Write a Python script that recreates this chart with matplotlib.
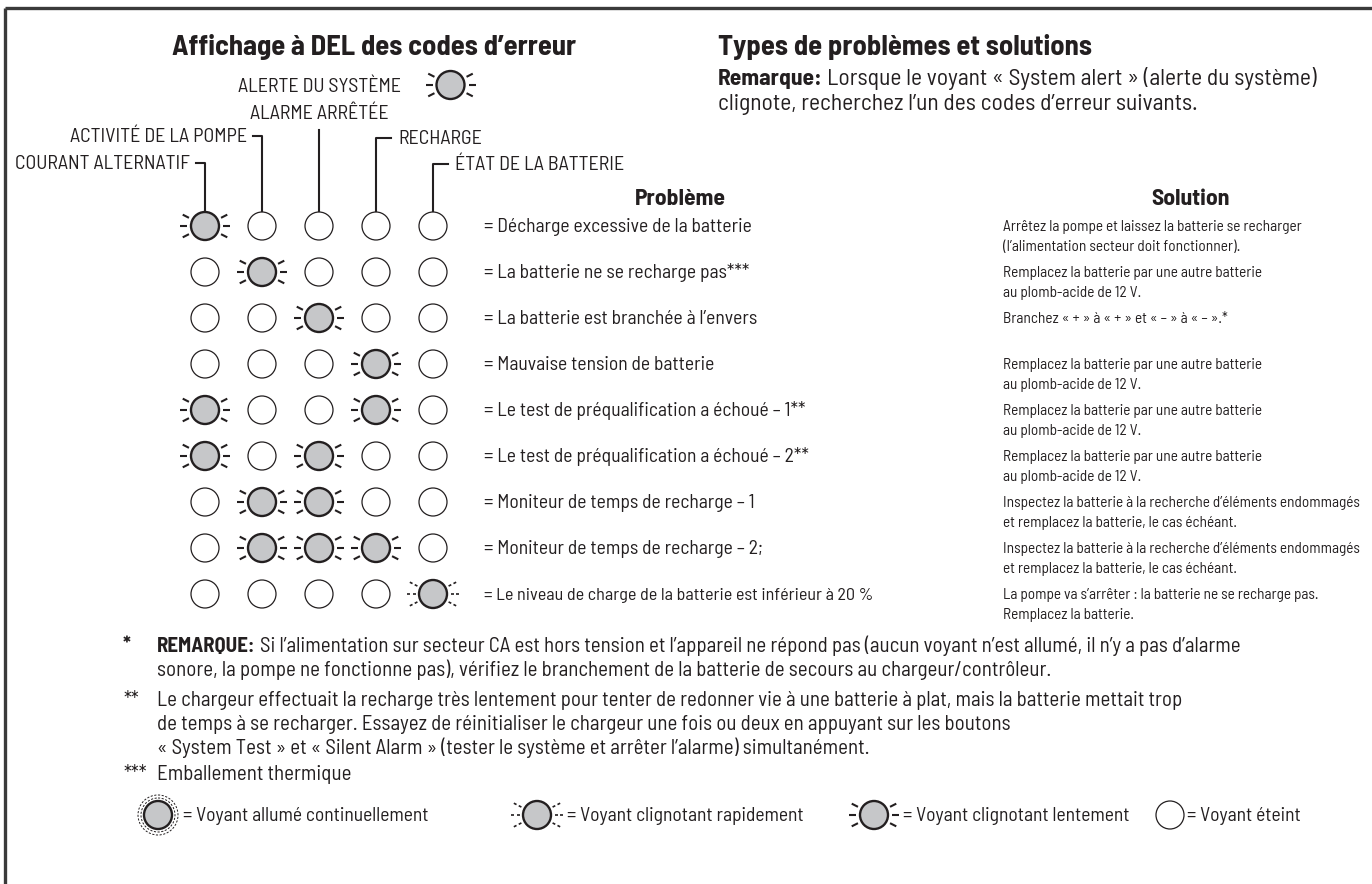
import matplotlib
matplotlib.use("Agg")
import matplotlib.pyplot as plt
from matplotlib.patches import Circle
from matplotlib import font_manager as fm
import numpy as np

_names = {f.name for f in fm.fontManager.ttflist}
FONT = 'DejaVu Sans'
for cand in ['Barlow Semi Condensed', 'Barlow Condensed', 'Roboto Condensed',
             'Liberation Sans Narrow', 'Arial Narrow', 'Open Sans Condensed', 'Roboto']:
    if cand in _names:
        FONT = cand
        break
plt.rcParams['font.family'] = [FONT, 'DejaVu Sans']

INK = '#231f20'
LED_FILL = '#c6c7c9'

# ---------------- data ----------------
title_leds = "Affichage à DEL des codes d’erreur"
title_types = "Types de problèmes et solutions"
remark_head = "Remarque:"
remark_lines = ["Lorsque le voyant « System alert » (alerte du système)",
                "clignote, recherchez l’un des codes d’erreur suivants."]
system_alert_label = "ALERTE DU SYSTÈME"
led_labels = ["COURANT ALTERNATIF", "ACTIVITÉ DE LA POMPE", "ALARME ARRÊTÉE",
              "RECHARGE", "ÉTAT DE LA BATTERIE"]
header_problem = "Problème"
header_solution = "Solution"

# 0 = off, 1 = slow blink, 2 = fast blink, 3 = steady
led_states = [
    [1, 0, 0, 0, 0],
    [0, 1, 0, 0, 0],
    [0, 0, 1, 0, 0],
    [0, 0, 0, 1, 0],
    [1, 0, 0, 1, 0],
    [1, 0, 1, 0, 0],
    [0, 1, 1, 0, 0],
    [0, 1, 1, 1, 0],
    [0, 0, 0, 0, 2],
]
problems = [
    "= Décharge excessive de la batterie",
    "= La batterie ne se recharge pas***",
    "= La batterie est branchée à l’envers",
    "= Mauvaise tension de batterie",
    "= Le test de préqualification a échoué – 1**",
    "= Le test de préqualification a échoué – 2**",
    "= Moniteur de temps de recharge – 1",
    "= Moniteur de temps de recharge – 2;",
    "= Le niveau de charge de la batterie est inférieur à 20 %",
]
solutions = [
    ["Arrêtez la pompe et laissez la batterie se recharger",
     "(l’alimentation secteur doit fonctionner)."],
    ["Remplacez la batterie par une autre batterie", "au plomb-acide de 12 V."],
    ["Branchez « + » à « + » et « – » à « – ».*"],
    ["Remplacez la batterie par une autre batterie", "au plomb-acide de 12 V."],
    ["Remplacez la batterie par une autre batterie", "au plomb-acide de 12 V."],
    ["Remplacez la batterie par une autre batterie", "au plomb-acide de 12 V."],
    ["Inspectez la batterie à la recherche d’éléments endommagés",
     "et remplacez la batterie, le cas échéant."],
    ["Inspectez la batterie à la recherche d’éléments endommagés",
     "et remplacez la batterie, le cas échéant."],
    ["La pompe va s’arrêter : la batterie ne se recharge pas.",
     "Remplacez la batterie."],
]
footnote_marks = ["*", "**", "***"]
footnote_heads = ["REMARQUE:", "", ""]
footnote_lines = [
    ["Si l’alimentation sur secteur CA est hors tension et l’appareil ne répond pas (aucun voyant n’est allumé, il n’y a pas d’alarme",
     "sonore, la pompe ne fonctionne pas), vérifiez le branchement de la batterie de secours au chargeur/contrôleur."],
    ["Le chargeur effectuait la recharge très lentement pour tenter de redonner vie à une batterie à plat, mais la batterie mettait trop",
     "de temps à se recharger. Essayez de réinitialiser le chargeur une fois ou deux en appuyant sur les boutons",
     "« System Test » et « Silent Alarm » (tester le système et arrêter l’alarme) simultanément."],
    ["Emballement thermique"],
]
legend_states = [3, 2, 1, 0]
legend_labels = ["= Voyant allumé continuellement", "= Voyant clignotant rapidement",
                 "= Voyant clignotant lentement", "= Voyant éteint"]

# ---------------- layout ----------------
W, H = 1372, 884
fig = plt.figure(figsize=(W / 100, H / 100), dpi=100)
ax = fig.add_axes([0, 0, 1, 1])
ax.set_xlim(0, W)
ax.set_ylim(H, 0)
ax.axis('off')
fig.canvas.draw()
renderer = fig.canvas.get_renderer()


def text_width(s, size, weight='normal'):
    t = ax.text(0, 0, s, fontsize=size, fontweight=weight)
    w = t.get_window_extent(renderer).width
    t.remove()
    return w


def fit(s, target, weight='normal'):
    return 20 * target / text_width(s, 20, weight)


def put(x, y, s, size, weight='normal', ha='left', dy=0.33):
    px = size * 100 / 72
    return ax.text(x, y + dy * px, s, fontsize=size, fontweight=weight,
                   ha=ha, va='baseline', color=INK)


FS_TITLE = fit(title_types, 374, 'bold')
FS_REMARK = fit(remark_lines[1], 480)
FS_LABEL = fit(led_labels[1], 177)
FS_HEAD = fit(header_problem, 91, 'bold')
FS_PROB = fit(problems[0], 268)
FS_PROB_LAST = fit(problems[-1], 389)
FS_SOL = fit(solutions[6][0], 358)
FS_FOOT = fit(footnote_lines[1][0], 1024)
FS_LEG = fit(legend_labels[2], 227)

R = 14
col_x0, col_dx = 205, 57.0
row_y0, row_dy = 226, 46.0
col_x = [col_x0 + i * col_dx for i in range(5)]
row_y = [row_y0 + j * row_dy for j in range(len(led_states))]


def draw_led(x, y, state, r=R):
    if state == 0:
        ax.add_patch(Circle((x, y), r, facecolor='white', edgecolor=INK, lw=0.9, zorder=3))
        return
    ax.add_patch(Circle((x, y), r, facecolor=LED_FILL, edgecolor=INK, lw=1.7, zorder=3))
    if state == 3:
        for rr in (r + 3, r + 6):
            ax.add_patch(Circle((x, y), rr, facecolor='none', edgecolor=INK, lw=0.7,
                                linestyle=(0, (2.2, 1.6)), zorder=3))
        return
    for base in (0, 180):
        for da in (-27, 0, 27):
            a = np.deg2rad(base + da)
            c, s = np.cos(a), np.sin(a)
            if state == 1:
                segs = [(r + 4, r + 11)]
                lw = 1.5
            else:
                segs = [(r + 3.5, r + 6.5), (r + 9, r + 12)]
                lw = 1.2
            for r1, r2 in segs:
                ax.plot([x + r1 * c, x + r2 * c], [y + r1 * s, y + r2 * s],
                        color=INK, lw=lw, solid_capstyle='butt', zorder=3)


# frame (top and left edges)
ax.plot([5, W], [8, 8], color='#3a3a3a', lw=2.4, solid_capstyle='butt')
ax.plot([5, 5], [8, H], color='#3a3a3a', lw=2.4, solid_capstyle='butt')

# titles
put(172, 46, title_leds, FS_TITLE, 'bold')
put(718, 46, title_types, FS_TITLE, 'bold')
put(718, 77, remark_head, FS_REMARK, 'bold')
wb = text_width(remark_head + " ", FS_REMARK, 'bold')
put(718 + wb, 77, remark_lines[0], FS_REMARK)
put(718, 102, remark_lines[1], FS_REMARK)

# LED labels with leader lines
label_y = [162, 135, 112, 137, 163]
alert_y = 85
top_led = row_y[0] - R
LW_LEAD = 1.5
for i in (0, 1):
    x = col_x[i]
    put(x - 15, label_y[i], led_labels[i], FS_LABEL, ha='right', dy=0.36)
    ax.plot([x - 9, x, x], [label_y[i] + 1, label_y[i] + 1, top_led], color=INK, lw=LW_LEAD)
for i in (3, 4):
    x = col_x[i]
    put(x + 22, label_y[i], led_labels[i], FS_LABEL, ha='left', dy=0.36)
    ax.plot([x + 15, x, x], [label_y[i] + 1, label_y[i] + 1, top_led], color=INK, lw=LW_LEAD)
put(col_x[2], label_y[2], led_labels[2], FS_LABEL, ha='center', dy=0.36)
put(col_x[2], alert_y, system_alert_label, FS_LABEL, ha='center', dy=0.36)
ax.plot([col_x[2], col_x[2]], [label_y[2] + 18, top_led], color=INK, lw=LW_LEAD)
alert_w = text_width(system_alert_label, FS_LABEL)
draw_led(col_x[2] + alert_w / 2 + 50, alert_y, 1)

# headers
put(680, 197, header_problem, FS_HEAD, 'bold', ha='center', dy=0.36)
put(1191, 197, header_solution, FS_HEAD, 'bold', ha='center', dy=0.36)

# LED grid + problems + solutions
for j, states in enumerate(led_states):
    for i, st in enumerate(states):
        draw_led(col_x[i], row_y[j], st)
    fs = FS_PROB_LAST if j == len(led_states) - 1 else FS_PROB
    put(484, row_y[j], problems[j], fs)
    for k, line in enumerate(solutions[j]):
        put(1003, row_y[j] + k * 20, line, FS_SOL)

# footnotes
y = 645
line_dy = 24
para_gap = [6, 2, 0]
for n, (mark, head, lines) in enumerate(zip(footnote_marks, footnote_heads, footnote_lines)):
    put(123, y, mark, FS_FOOT, 'bold' if n == 0 else 'normal')
    for k, line in enumerate(lines):
        x = 157
        if k == 0 and head:
            put(x, y, head, FS_FOOT, 'bold')
            x += text_width(head + " ", FS_FOOT, 'bold')
        put(x, y, line, FS_FOOT)
        y += line_dy
    y += para_gap[n]

# legend
leg_y = 815
leg_icon_x = [158, 537, 874, 1170]
leg_text_x = [183, 567, 903, 1187]
for st, ix, tx, lab in zip(legend_states, leg_icon_x, leg_text_x, legend_labels):
    draw_led(ix, leg_y, st)
    put(tx, leg_y, lab, FS_LEG)

fig.savefig("out.png", dpi=100)
